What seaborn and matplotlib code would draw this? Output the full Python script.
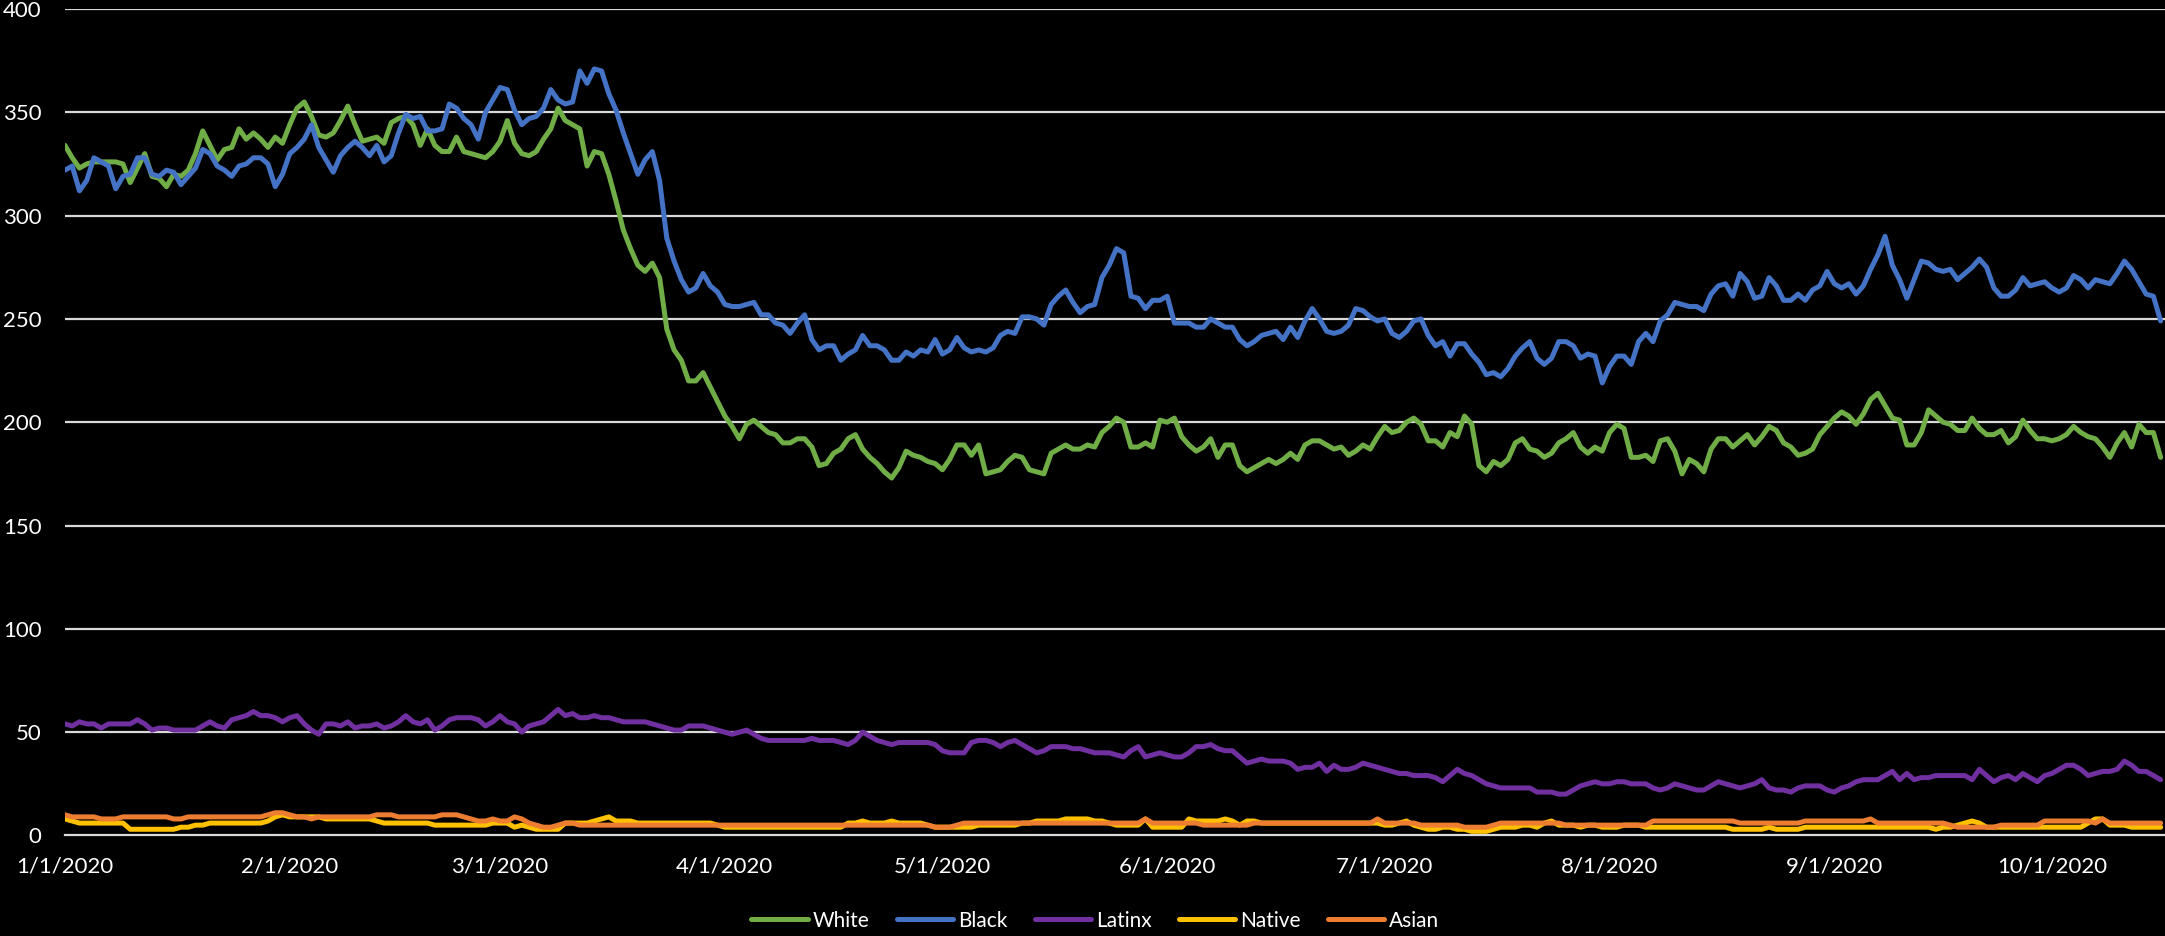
"""
Daily counts by group, Jan 1 to Oct 16 2020, drawn on a black background.
"""

import numpy as np
import pandas as pd
import matplotlib
matplotlib.use("Agg")
import matplotlib.pyplot as plt
import matplotlib.dates as mdates
import seaborn as sns

START = "2020-01-01"

white = [
    334, 328, 323, 325, 326, 326, 326, 326, 325, 316,
    323, 330, 319, 318, 314, 320, 319, 322, 330, 341,
    334, 327, 332, 333, 342, 337, 340, 337, 333, 338,
    335, 344, 352, 355, 348, 339, 338, 340, 346, 353,
    344, 336, 337, 338, 335, 345, 347, 348, 344, 334,
    342, 334, 331, 331, 338, 331, 330, 329, 328, 331,
    336, 346, 335, 330, 329, 331, 337, 342, 352, 346,
    344, 342, 324, 331, 330, 320, 307, 293, 284, 276,
    273, 277, 270, 245, 235, 230, 220, 220, 224, 217,
    210, 203, 198, 192, 199, 201, 198, 195, 194, 190,
    190, 192, 192, 188, 179, 180, 185, 187, 192, 194,
    187, 183, 180, 176, 173, 178, 186, 184, 183, 181,
    180, 177, 182, 189, 189, 184, 189, 175, 176, 177,
    181, 184, 183, 177, 176, 175, 185, 187, 189, 187,
    187, 189, 188, 195, 198, 202, 200, 188, 188, 190,
    188, 201, 200, 202, 193, 189, 186, 188, 192, 183,
    189, 189, 179, 176, 178, 180, 182, 180, 182, 185,
    182, 189, 191, 191, 189, 187, 188, 184, 186, 189,
    187, 193, 198, 195, 196, 200, 202, 199, 191, 191,
    188, 195, 193, 203, 199, 179, 176, 181, 179, 182,
    190, 192, 187, 186, 183, 185, 190, 192, 195, 188,
    185, 188, 186, 195, 199, 197, 183, 183, 184, 181,
    191, 192, 186, 175, 182, 180, 176, 187, 192, 192,
    188, 191, 194, 189, 193, 198, 196, 190, 188, 184,
    185, 187, 194, 198, 202, 205, 203, 199, 204, 211,
    214, 208, 202, 201, 189, 189, 195, 206, 203, 200,
    199, 196, 196, 202, 197, 194, 194, 196, 190, 193,
    201, 196, 192, 192, 191, 192, 194, 198, 195, 193,
    192, 188, 183, 190, 195, 188, 199, 195, 195, 183,
]

black = [
    322, 324, 312, 317, 328, 326, 324, 313, 319, 320,
    328, 328, 320, 319, 322, 321, 315, 319, 323, 332,
    330, 324, 322, 319, 324, 325, 328, 328, 325, 314,
    320, 330, 333, 337, 344, 333, 327, 321, 329, 333,
    336, 333, 329, 334, 326, 329, 340, 349, 347, 348,
    341, 341, 342, 354, 352, 347, 344, 337, 350, 356,
    362, 361, 351, 344, 347, 348, 352, 361, 356, 354,
    355, 370, 364, 371, 370, 359, 351, 340, 330, 320,
    327, 331, 317, 289, 278, 269, 263, 265, 272, 266,
    263, 257, 256, 256, 257, 258, 252, 252, 248, 247,
    243, 248, 252, 240, 235, 237, 237, 230, 233, 235,
    242, 237, 237, 235, 230, 230, 234, 232, 235, 234,
    240, 233, 235, 241, 236, 234, 235, 234, 236, 242,
    244, 243, 251, 251, 250, 247, 257, 261, 264, 258,
    253, 256, 257, 270, 276, 284, 282, 261, 260, 255,
    259, 259, 261, 248, 248, 248, 246, 246, 250, 248,
    246, 246, 240, 237, 239, 242, 243, 244, 240, 246,
    241, 249, 255, 250, 244, 243, 244, 247, 255, 254,
    251, 249, 250, 243, 241, 244, 249, 250, 242, 237,
    239, 232, 238, 238, 233, 229, 223, 224, 222, 226,
    232, 236, 239, 231, 228, 231, 239, 239, 237, 231,
    233, 232, 219, 227, 232, 232, 228, 239, 243, 239,
    249, 252, 258, 257, 256, 256, 254, 262, 266, 267,
    261, 272, 268, 260, 261, 270, 266, 259, 259, 262,
    259, 264, 266, 273, 267, 265, 267, 262, 266, 274,
    281, 290, 276, 269, 260, 269, 278, 277, 274, 273,
    274, 269, 272, 275, 279, 275, 265, 261, 261, 264,
    270, 266, 267, 268, 265, 263, 265, 271, 269, 265,
    269, 268, 267, 272, 278, 274, 268, 262, 261, 249,
]

latinx = [
    54, 53, 55, 54, 54, 52, 54, 54, 54, 54,
    56, 54, 51, 52, 52, 51, 51, 51, 51, 53,
    55, 53, 52, 56, 57, 58, 60, 58, 58, 57,
    55, 57, 58, 54, 51, 49, 54, 54, 53, 55,
    52, 53, 53, 54, 52, 53, 55, 58, 55, 54,
    56, 51, 53, 56, 57, 57, 57, 56, 53, 55,
    58, 55, 54, 50, 53, 54, 55, 58, 61, 58,
    59, 57, 57, 58, 57, 57, 56, 55, 55, 55,
    55, 54, 53, 52, 51, 51, 53, 53, 53, 52,
    51, 50, 49, 50, 51, 49, 47, 46, 46, 46,
    46, 46, 46, 47, 46, 46, 46, 45, 44, 46,
    50, 48, 46, 45, 44, 45, 45, 45, 45, 45,
    44, 41, 40, 40, 40, 45, 46, 46, 45, 43,
    45, 46, 44, 42, 40, 41, 43, 43, 43, 42,
    42, 41, 40, 40, 40, 39, 38, 41, 43, 38,
    39, 40, 39, 38, 38, 40, 43, 43, 44, 42,
    41, 41, 38, 35, 36, 37, 36, 36, 36, 35,
    32, 33, 33, 35, 31, 34, 32, 32, 33, 35,
    34, 33, 32, 31, 30, 30, 29, 29, 29, 28,
    26, 29, 32, 30, 29, 27, 25, 24, 23, 23,
    23, 23, 23, 21, 21, 21, 20, 20, 22, 24,
    25, 26, 25, 25, 26, 26, 25, 25, 25, 23,
    22, 23, 25, 24, 23, 22, 22, 24, 26, 25,
    24, 23, 24, 25, 27, 23, 22, 22, 21, 23,
    24, 24, 24, 22, 21, 23, 24, 26, 27, 27,
    27, 29, 31, 27, 30, 27, 28, 28, 29, 29,
    29, 29, 29, 27, 32, 29, 26, 28, 29, 27,
    30, 28, 26, 29, 30, 32, 34, 34, 32, 29,
    30, 31, 31, 32, 36, 34, 31, 31, 29, 27,
]

native = [
    8, 7, 6, 6, 6, 6, 6, 6, 6, 3,
    3, 3, 3, 3, 3, 3, 4, 4, 5, 5,
    6, 6, 6, 6, 6, 6, 6, 6, 7, 9,
    10, 9, 9, 9, 9, 9, 8, 8, 8, 8,
    8, 8, 8, 7, 6, 6, 6, 6, 6, 6,
    6, 5, 5, 5, 5, 5, 5, 5, 5, 6,
    6, 6, 4, 5, 4, 3, 3, 3, 3, 6,
    6, 6, 6, 7, 8, 9, 7, 7, 7, 6,
    6, 6, 6, 6, 6, 6, 6, 6, 6, 6,
    5, 4, 4, 4, 4, 4, 4, 4, 4, 4,
    4, 4, 4, 4, 4, 4, 4, 4, 6, 6,
    7, 6, 6, 6, 7, 6, 6, 6, 6, 5,
    4, 4, 4, 4, 4, 4, 5, 5, 5, 5,
    5, 5, 6, 6, 7, 7, 7, 7, 8, 8,
    8, 8, 7, 7, 6, 5, 5, 5, 5, 8,
    4, 4, 4, 4, 4, 8, 7, 7, 7, 7,
    8, 7, 5, 7, 7, 6, 6, 6, 6, 6,
    6, 6, 6, 6, 6, 6, 6, 6, 6, 6,
    6, 6, 5, 5, 6, 7, 5, 4, 3, 3,
    4, 4, 3, 3, 2, 2, 2, 3, 4, 4,
    4, 5, 5, 4, 6, 7, 5, 5, 5, 4,
    5, 5, 4, 4, 4, 5, 5, 5, 4, 4,
    4, 4, 4, 4, 4, 4, 4, 4, 4, 4,
    3, 3, 3, 3, 3, 4, 3, 3, 3, 3,
    4, 4, 4, 4, 4, 4, 4, 4, 4, 4,
    4, 4, 4, 4, 4, 4, 4, 4, 3, 4,
    4, 5, 6, 7, 6, 4, 4, 4, 4, 4,
    4, 4, 4, 4, 4, 4, 4, 4, 4, 6,
    8, 8, 5, 5, 5, 4, 4, 4, 4, 4,
]

asian = [
    10, 9, 9, 9, 9, 8, 8, 8, 9, 9,
    9, 9, 9, 9, 9, 8, 8, 9, 9, 9,
    9, 9, 9, 9, 9, 9, 9, 9, 10, 11,
    11, 10, 9, 9, 8, 9, 9, 9, 9, 9,
    9, 9, 9, 10, 10, 10, 9, 9, 9, 9,
    9, 9, 10, 10, 10, 9, 8, 7, 7, 8,
    7, 7, 9, 8, 6, 5, 4, 4, 5, 6,
    6, 5, 5, 5, 5, 5, 5, 5, 5, 5,
    5, 5, 5, 5, 5, 5, 5, 5, 5, 5,
    5, 5, 5, 5, 5, 5, 5, 5, 5, 5,
    5, 5, 5, 5, 5, 5, 5, 5, 5, 5,
    5, 5, 5, 5, 5, 5, 5, 5, 5, 5,
    4, 4, 4, 5, 6, 6, 6, 6, 6, 6,
    6, 6, 6, 6, 6, 6, 6, 6, 6, 6,
    6, 6, 6, 6, 6, 6, 6, 6, 6, 8,
    6, 6, 6, 6, 6, 6, 6, 5, 5, 5,
    5, 5, 5, 5, 6, 6, 6, 6, 6, 6,
    6, 6, 6, 6, 6, 6, 6, 6, 6, 6,
    6, 8, 6, 6, 6, 6, 6, 5, 5, 5,
    5, 5, 5, 4, 4, 4, 4, 5, 6, 6,
    6, 6, 6, 6, 6, 6, 6, 5, 5, 5,
    5, 5, 5, 5, 5, 5, 5, 5, 5, 7,
    7, 7, 7, 7, 7, 7, 7, 7, 7, 7,
    7, 6, 6, 6, 6, 6, 6, 6, 6, 6,
    7, 7, 7, 7, 7, 7, 7, 7, 7, 8,
    6, 6, 6, 6, 6, 6, 6, 6, 6, 6,
    5, 4, 4, 4, 4, 4, 4, 5, 5, 5,
    5, 5, 5, 7, 7, 7, 7, 7, 7, 7,
    6, 8, 6, 6, 6, 6, 6, 6, 6, 6,
]

groups = ["White", "Black", "Latinx", "Native", "Asian"]
colors = ["#70AD47", "#4472C4", "#7030A0", "#FFC000", "#ED7D31"]
month_ticks = ["2020-%02d-01" % m for m in range(1, 11)]
y_ticks = [0, 50, 100, 150, 200, 250, 300, 350, 400]

dates = pd.date_range(START, periods=len(white), freq="D")
series = dict(zip(groups, [white, black, latinx, native, asian]))
df = pd.concat(
    [pd.DataFrame({"date": dates, "count": vals, "group": name})
     for name, vals in series.items()],
    ignore_index=True,
)

sns.set_style("white", {"axes.facecolor": "black", "figure.facecolor": "black"})
plt.rcParams["font.family"] = ["Lato", "DejaVu Sans"]
plt.rcParams["text.color"] = "white"

fig = plt.figure(figsize=(21.65, 9.36), dpi=100)
ax = fig.add_axes([0.0300, 0.1074, 0.9700, 0.8830])

# gridlines first so the series sit on top
for y in y_ticks[1:]:
    ax.axhline(y, color="#d9d9d9", lw=1.6, zorder=0)

sns.lineplot(
    data=df, x="date", y="count", hue="group",
    hue_order=groups, palette=colors,
    linewidth=3.6, legend=False, ax=ax,
)
for line in ax.lines[-len(groups):]:
    line.set_solid_capstyle("round")
    line.set_solid_joinstyle("round")

ax.set_ylim(0, 400)
ax.set_xlim(dates[0], dates[0] + pd.Timedelta(days=289.6))
ax.set_yticks(y_ticks)
ax.set_yticklabels([str(v) for v in y_ticks])
tick_dates = pd.to_datetime(month_ticks)
ax.set_xticks(mdates.date2num(tick_dates))
ax.set_xticklabels(["%d/%d/%d" % (d.month, d.day, d.year) for d in tick_dates])

ax.set_xlabel("")
ax.set_ylabel("")
for side in ["top", "right", "left"]:
    ax.spines[side].set_visible(False)
ax.spines["bottom"].set_color("#d9d9d9")
ax.spines["bottom"].set_linewidth(1.6)
ax.spines["bottom"].set_zorder(0.5)

ax.tick_params(axis="x", colors="#d9d9d9", direction="out", length=6, width=1.6,
               labelcolor="white", labelsize=16, pad=9)
ax.tick_params(axis="y", length=0, labelcolor="white", labelsize=16, pad=17)

fig.legend(
    ax.lines[-len(groups):], groups,
    loc="center", bbox_to_anchor=(0.506, 0.0165), ncol=5, frameon=False,
    fontsize=15, handlelength=2.7, handletextpad=0.25, columnspacing=1.3,
)

fig.savefig("out.png", dpi=100, facecolor="black")
plt.close(fig)
